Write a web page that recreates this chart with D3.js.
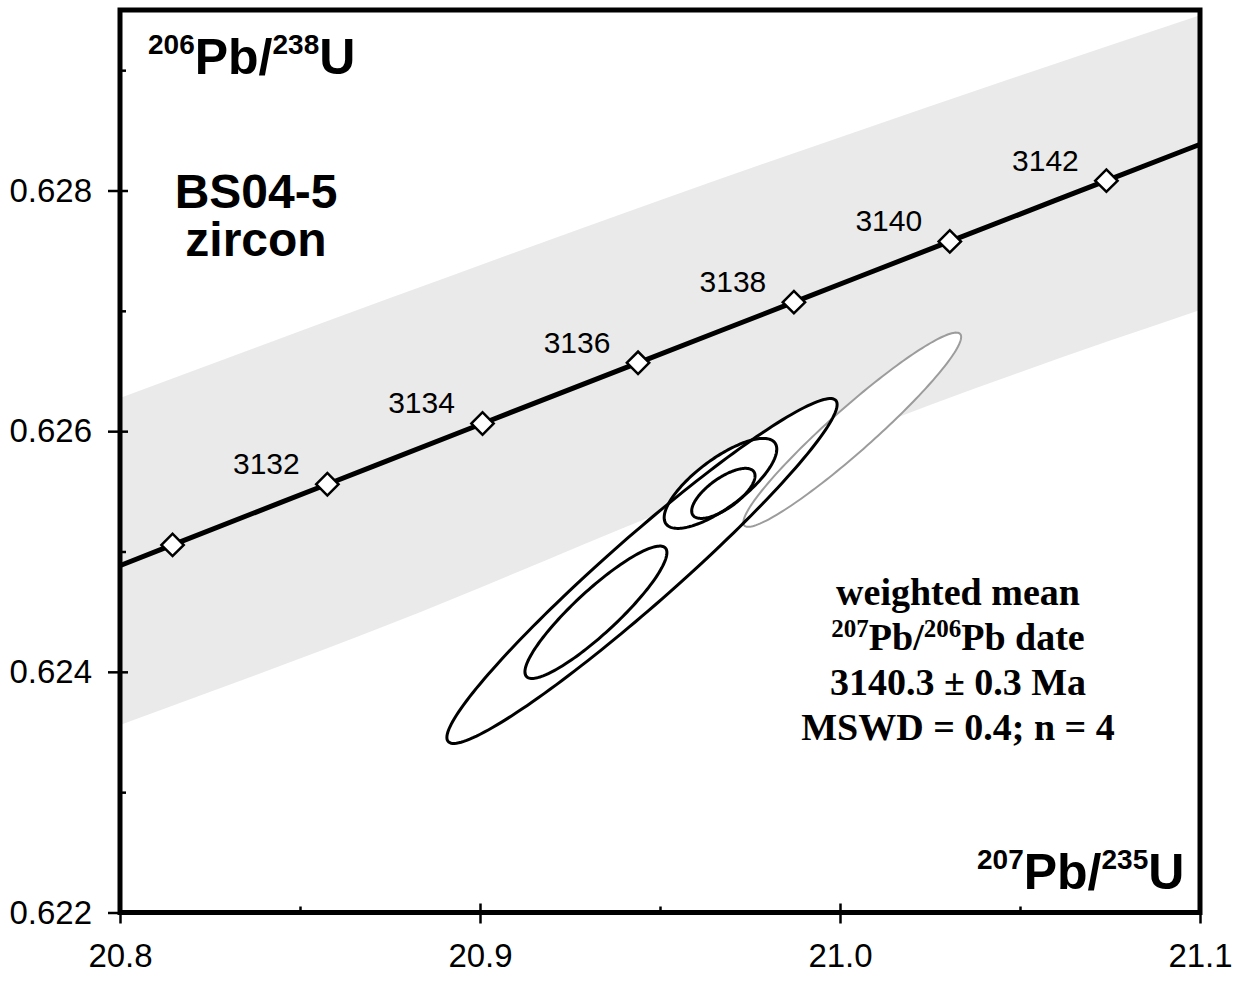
<!DOCTYPE html>
<html>
<head>
<meta charset="utf-8">
<script src="https://cdn.jsdelivr.net/npm/d3@7"></script>
<style>
  html, body { margin: 0; padding: 0; background: #fff; }
  svg { display: block; }
</style>
</head>
<body>
<svg id="chart" width="1247" height="982"></svg>
<script>
// ---- Concordia reference points (age in Ma and the two isotope ratios) ----
const concordiaAges   = [3128, 3130, 3132, 3134, 3136, 3138, 3140, 3142, 3144];
const concordia207235 = [20.7717, 20.8146, 20.8576, 20.9007, 20.9439, 20.9872, 21.0305, 21.0740, 21.1175];
const concordia206238 = [0.624550, 0.625055, 0.625559, 0.626064, 0.626568, 0.627072, 0.627577, 0.628082, 0.628587];
const labelledAges    = [3132, 3134, 3136, 3138, 3140, 3142];

// ---- Concordia uncertainty envelope (decay-constant errors) ----
const band207235 = [20.8, 20.875, 20.95, 21.025, 21.1];
const bandUpper  = [0.626275, 0.627106, 0.627920, 0.628701, 0.629457];
const bandLower  = [0.623558, 0.624397, 0.625320, 0.626217, 0.627006];

// ---- Zircon analyses (2-sigma errors, error correlation) ----
const grain207235 = [20.9450, 20.9668, 20.9676, 20.9322];
const grain206238 = [0.624838, 0.625566, 0.625483, 0.624495];
const grainErrX   = [0.0542, 0.01564, 0.0088, 0.01972];
const grainErrY   = [0.001433, 0.000374, 0.000208, 0.000550];
const grainRho    = [0.965, 0.76, 0.70, 0.90];

// analysis left out of the weighted mean
const excl207235 = [21.0034];
const excl206238 = [0.626012];
const exclErrX   = [0.03025];
const exclErrY   = [0.000807];
const exclRho    = [0.955];

// ---- Axis ticks ----
const xTicks = [20.8, 20.9, 21.0, 21.1];
const xMinorTicks = [20.85, 20.95, 21.05];
const yTicks = [0.622, 0.624, 0.626, 0.628];
const yMinorTicks = [0.623, 0.625, 0.627, 0.629];

const resultLines = ["weighted mean", "207Pb/206Pb date", "3140.3 ± 0.3 Ma", "MSWD = 0.4; n = 4"];

// ---- Layout ----
const svg = d3.select("#chart");
const plotLeft = 120, plotRight = 1200, plotTop = 10, plotBottom = 912.5;
const x = d3.scaleLinear().domain([20.8, 21.1]).range([plotLeft, plotRight]);
const y = d3.scaleLinear().domain([0.622, 0.6295]).range([plotBottom, plotTop]);

svg.append("defs").append("clipPath").attr("id", "plotClip")
  .append("rect").attr("x", plotLeft).attr("y", plotTop)
  .attr("width", plotRight - plotLeft).attr("height", plotBottom - plotTop);

const plot = svg.append("g").attr("clip-path", "url(#plotClip)");

// uncertainty envelope
const band = band207235.map((v, i) => ({ x: v, hi: bandUpper[i], lo: bandLower[i] }));
plot.append("path")
  .attr("d", d3.area().x(d => x(d.x)).y0(d => y(d.lo)).y1(d => y(d.hi)).curve(d3.curveMonotoneX)(band))
  .attr("fill", "#eaeaea");

// error ellipse outline from centre, 2s errors and correlation
function ellipse(cx, cy, ex, ey, r) {
  const pts = [];
  const s = Math.sqrt(1 - r * r);
  for (let k = 0; k < 180; k++) {
    const t = k / 180 * 2 * Math.PI;
    pts.push([cx + ex * Math.cos(t), cy + ey * (r * Math.cos(t) + s * Math.sin(t))]);
  }
  return d3.line().x(d => x(d[0])).y(d => y(d[1])).curve(d3.curveLinearClosed)(pts);
}

const grains = grain207235.map((v, i) => ellipse(v, grain206238[i], grainErrX[i], grainErrY[i], grainRho[i]));
const excluded = excl207235.map((v, i) => ellipse(v, excl206238[i], exclErrX[i], exclErrY[i], exclRho[i]));

// white fills first so all outlines stay visible
plot.selectAll("path.fill").data(excluded.concat(grains)).join("path")
  .attr("class", "fill").attr("d", d => d).attr("fill", "#fff").attr("stroke", "none");
plot.selectAll("path.excl").data(excluded).join("path")
  .attr("class", "excl").attr("d", d => d).attr("fill", "none")
  .attr("stroke", "#9c9c9c").attr("stroke-width", 2);
plot.selectAll("path.grain").data(grains).join("path")
  .attr("class", "grain").attr("d", d => d).attr("fill", "none")
  .attr("stroke", "#000").attr("stroke-width", 3);

// concordia curve
const conc = concordiaAges.map((a, i) => ({ age: a, x: concordia207235[i], y: concordia206238[i] }));
plot.append("path")
  .attr("d", d3.line().x(d => x(d.x)).y(d => y(d.y)).curve(d3.curveMonotoneX)(conc))
  .attr("fill", "none").attr("stroke", "#000").attr("stroke-width", 5);

const diamond = d3.symbol().type(d3.symbolSquare).size(250);
plot.selectAll("path.tick").data(conc).join("path")
  .attr("class", "tick")
  .attr("d", diamond)
  .attr("transform", d => `translate(${x(d.x)},${y(d.y)}) rotate(45)`)
  .attr("fill", "#fff").attr("stroke", "#000").attr("stroke-width", 2.5);

plot.selectAll("text.age").data(conc.filter(d => labelledAges.includes(d.age))).join("text")
  .attr("class", "age")
  .attr("x", d => x(d.x) - 61).attr("y", d => y(d.y) - 10)
  .attr("text-anchor", "middle")
  .attr("font-family", "Liberation Sans, Arial, sans-serif")
  .attr("font-size", 30)
  .text(d => d.age);

// ---- Axes ----
const axisFont = "Liberation Sans, Arial, sans-serif";
const gx = svg.append("g").attr("transform", `translate(0,${plotBottom})`);
gx.call(d3.axisBottom(x).tickValues(xTicks).tickSize(11).tickPadding(20).tickFormat(d3.format(".1f")));
gx.append("g").call(d3.axisBottom(x).tickValues(xTicks).tickSize(-9).tickFormat(""));
gx.append("g").call(d3.axisBottom(x).tickValues(xMinorTicks).tickSize(-6).tickFormat(""));

const gy = svg.append("g").attr("transform", `translate(${plotLeft},0)`);
gy.call(d3.axisLeft(y).tickValues(yTicks).tickSize(12).tickPadding(16).tickFormat(d3.format(".3f")));
gy.append("g").call(d3.axisLeft(y).tickValues(yTicks).tickSize(-8).tickFormat(""));
gy.append("g").call(d3.axisLeft(y).tickValues(yMinorTicks).tickSize(-6).tickFormat(""));

svg.selectAll(".domain").remove();
svg.selectAll(".tick line").attr("stroke", "#000").attr("stroke-width", 2.5);
svg.selectAll(".tick text").attr("font-family", axisFont).attr("font-size", 33).attr("fill", "#000");

// frame
svg.append("rect")
  .attr("x", plotLeft).attr("y", plotTop)
  .attr("width", plotRight - plotLeft).attr("height", plotBottom - plotTop)
  .attr("fill", "none").attr("stroke", "#000").attr("stroke-width", 5);

// ---- Titles ----
function isoLabel(xPos, yPos, parts) {
  const t = svg.append("text").attr("x", xPos).attr("y", yPos)
    .attr("font-family", axisFont).attr("font-weight", "bold").attr("fill", "#000");
  parts.forEach(([txt, sup]) => {
    t.append("tspan").attr("font-size", sup ? 28 : 50).attr("dy", sup ? -20 : 20).text(txt);
  });
  return t;
}
isoLabel(148, 74, [["206", true], ["Pb/", false], ["238", true], ["U", false]]);
isoLabel(977, 889, [["207", true], ["Pb/", false], ["235", true], ["U", false]]);

svg.append("text").attr("x", 256).attr("y", 208).attr("text-anchor", "middle")
  .attr("font-family", axisFont).attr("font-weight", "bold").attr("font-size", 48).text("BS04-5");
svg.append("text").attr("x", 256).attr("y", 256).attr("text-anchor", "middle")
  .attr("font-family", axisFont).attr("font-weight", "bold").attr("font-size", 48).text("zircon");

// weighted-mean summary
const serif = "Liberation Serif, Times New Roman, serif";
const res = svg.append("g").attr("font-family", serif).attr("font-weight", "bold").attr("fill", "#000");
const lineY = [605, 650, 695, 740];
res.append("text").attr("x", 958).attr("y", lineY[0]).attr("text-anchor", "middle").attr("font-size", 38).text(resultLines[0]);
const l2 = res.append("text").attr("x", 958).attr("y", lineY[1]).attr("text-anchor", "middle").attr("font-size", 38);
l2.append("tspan").attr("font-size", 25).attr("dy", -13).text("207");
l2.append("tspan").attr("dy", 13).text("Pb/");
l2.append("tspan").attr("font-size", 25).attr("dy", -13).text("206");
l2.append("tspan").attr("dy", 13).text("Pb date");
res.append("text").attr("x", 958).attr("y", lineY[2]).attr("text-anchor", "middle").attr("font-size", 38).text(resultLines[2]);
res.append("text").attr("x", 958).attr("y", lineY[3]).attr("text-anchor", "middle").attr("font-size", 38).text(resultLines[3]);
</script>
</body>
</html>
